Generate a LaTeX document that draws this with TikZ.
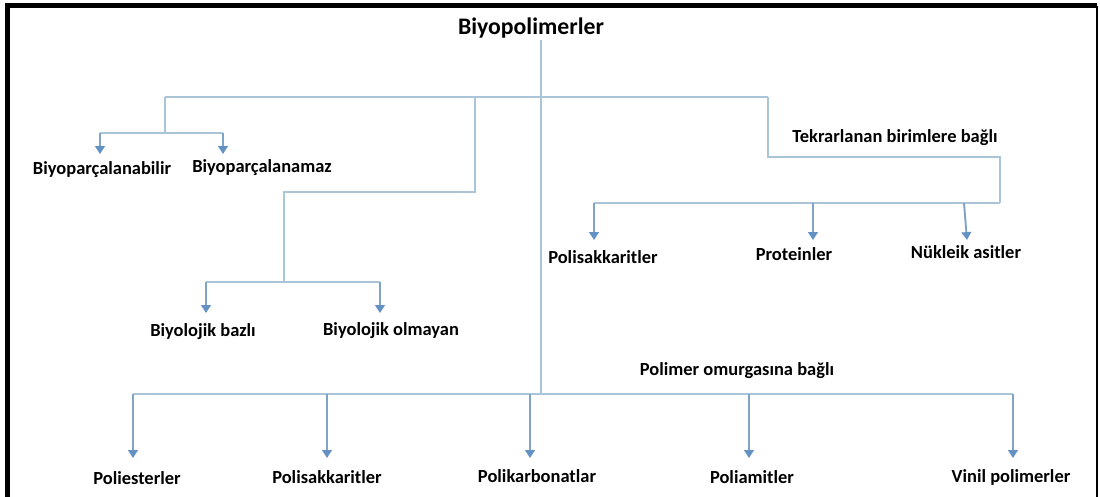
\documentclass[tikz,border=0pt]{standalone}
\usepackage{fontspec}
\setmainfont{Carlito}
\usetikzlibrary{arrows.meta}
\definecolor{linkcol}{RGB}{170,196,216}
\definecolor{arrcol}{RGB}{128,164,200}
\definecolor{tipcol}{RGB}{100,145,195}
\begin{document}
\begin{tikzpicture}[x=0.02cm,y=-0.02cm,
  lbl/.style={font=\bfseries\fontsize{10.5}{12}\selectfont, inner sep=1pt, text=black},
  title/.style={font=\bfseries\fontsize{13.5}{15}\selectfont, inner sep=1pt, text=black},
  link/.style={draw=linkcol, line width=1.1pt},
  arr/.style={draw=arrcol, line width=1.1pt, -{Triangle[length=4.5pt,width=5.5pt,color=tipcol]}}]
\useasboundingbox (0,0) rectangle (1100,497);
% outer frame (open at the bottom)
\draw[line width=2.4pt] (7.5,497) -- (7.5,5.5) -- (1097,5.5);
\draw[line width=1.4pt] (1097,5.5) -- (1097,497);

% labels
\node[title] (root) at (531,28) {Biyopolimerler};
\node[lbl] (bA)   at (102,170) {Biyoparçalanabilir};
\node[lbl] (bB)   at (262,168) {Biyoparçalanamaz};
\node[lbl] (tek)  at (895,138) {Tekrarlanan birimlere bağlı};
\node[lbl] (bio1) at (203,332) {Biyolojik bazlı};
\node[lbl] (bio2) at (391,331) {Biyolojik olmayan};
\node[lbl] (ps1)  at (603,257) {Polisakkaritler};
\node[lbl] (prot) at (794,254) {Proteinler};
\node[lbl] (nuk)  at (966,252) {Nükleik asitler};
\node[lbl] (omur) at (737,371) {Polimer omurgasına bağlı};
\node[lbl] (pe)   at (137,478) {Poliesterler};
\node[lbl] (ps2)  at (327,477) {Polisakkaritler};
\node[lbl] (pk)   at (537,476) {Polikarbonatlar};
\node[lbl] (pa)   at (752,477) {Poliamitler};
\node[lbl] (vp)   at (1011,477) {Vinil polimerler};

% junction points of the tree
\coordinate (t0) at (541,40);
\coordinate (t2) at (541,394);
\coordinate (hL) at (165,97);
\coordinate (hR) at (768,97);
\coordinate (hM) at (475,97);
% left group
\coordinate (lA) at (100,133);
\coordinate (lB) at (223,133);
\coordinate (aA) at (100,154);
\coordinate (aB) at (223,154);
% middle group
\coordinate (m1) at (475,192);
\coordinate (m2) at (284,192);
\coordinate (m3) at (284,282);
\coordinate (mA) at (206,282);
\coordinate (mB) at (380,282);
\coordinate (amA) at (206,313);
\coordinate (amB) at (380,313);
% right group
\coordinate (r1) at (768,157);
\coordinate (r2) at (1000,157);
\coordinate (r3) at (1000,203);
\coordinate (rA) at (594,203);
\coordinate (rB) at (813,203);
\coordinate (rC) at (964,203);
\coordinate (arA) at (594,240);
\coordinate (arB) at (813,240);
\coordinate (arC) at (967,240);
% bottom group
\coordinate (b1) at (133,394);
\coordinate (b2) at (327,394);
\coordinate (b3) at (530,394);
\coordinate (b4) at (749,394);
\coordinate (b5) at (1013,394);
\coordinate (ab1) at (133,458);
\coordinate (ab2) at (327,458);
\coordinate (ab3) at (530,458);
\coordinate (ab4) at (749,458);
\coordinate (ab5) at (1013,458);

% trunk and main bar
\draw[link] (t0) -- (t2);
\draw[link] (hL) -- (hR);
% left group
\draw[link] (hL) -- (hL |- lA);
\draw[link] (lA) -- (lB);
\draw[arr] (lA) -- (aA);
\draw[arr] (lB) -- (aB);
% middle group
\draw[link] (hM) -- (m1) -- (m2) -- (m3);
\draw[link] (mA) -- (mB);
\draw[arr] (mA) -- (amA);
\draw[arr] (mB) -- (amB);
% right group
\draw[link] (hR) -- (r1) -- (r2) -- (r3);
\draw[link] (rA) -- (r3);
\draw[arr] (rA) -- (arA);
\draw[arr] (rB) -- (arB);
\draw[arr] (rC) -- (arC);
% bottom group
\draw[link] (b1) -- (t2) -- (b5);
\draw[arr] (b1) -- (ab1);
\draw[arr] (b2) -- (ab2);
\draw[arr] (b3) -- (ab3);
\draw[arr] (b4) -- (ab4);
\draw[arr] (b5) -- (ab5);
\end{tikzpicture}
\end{document}
